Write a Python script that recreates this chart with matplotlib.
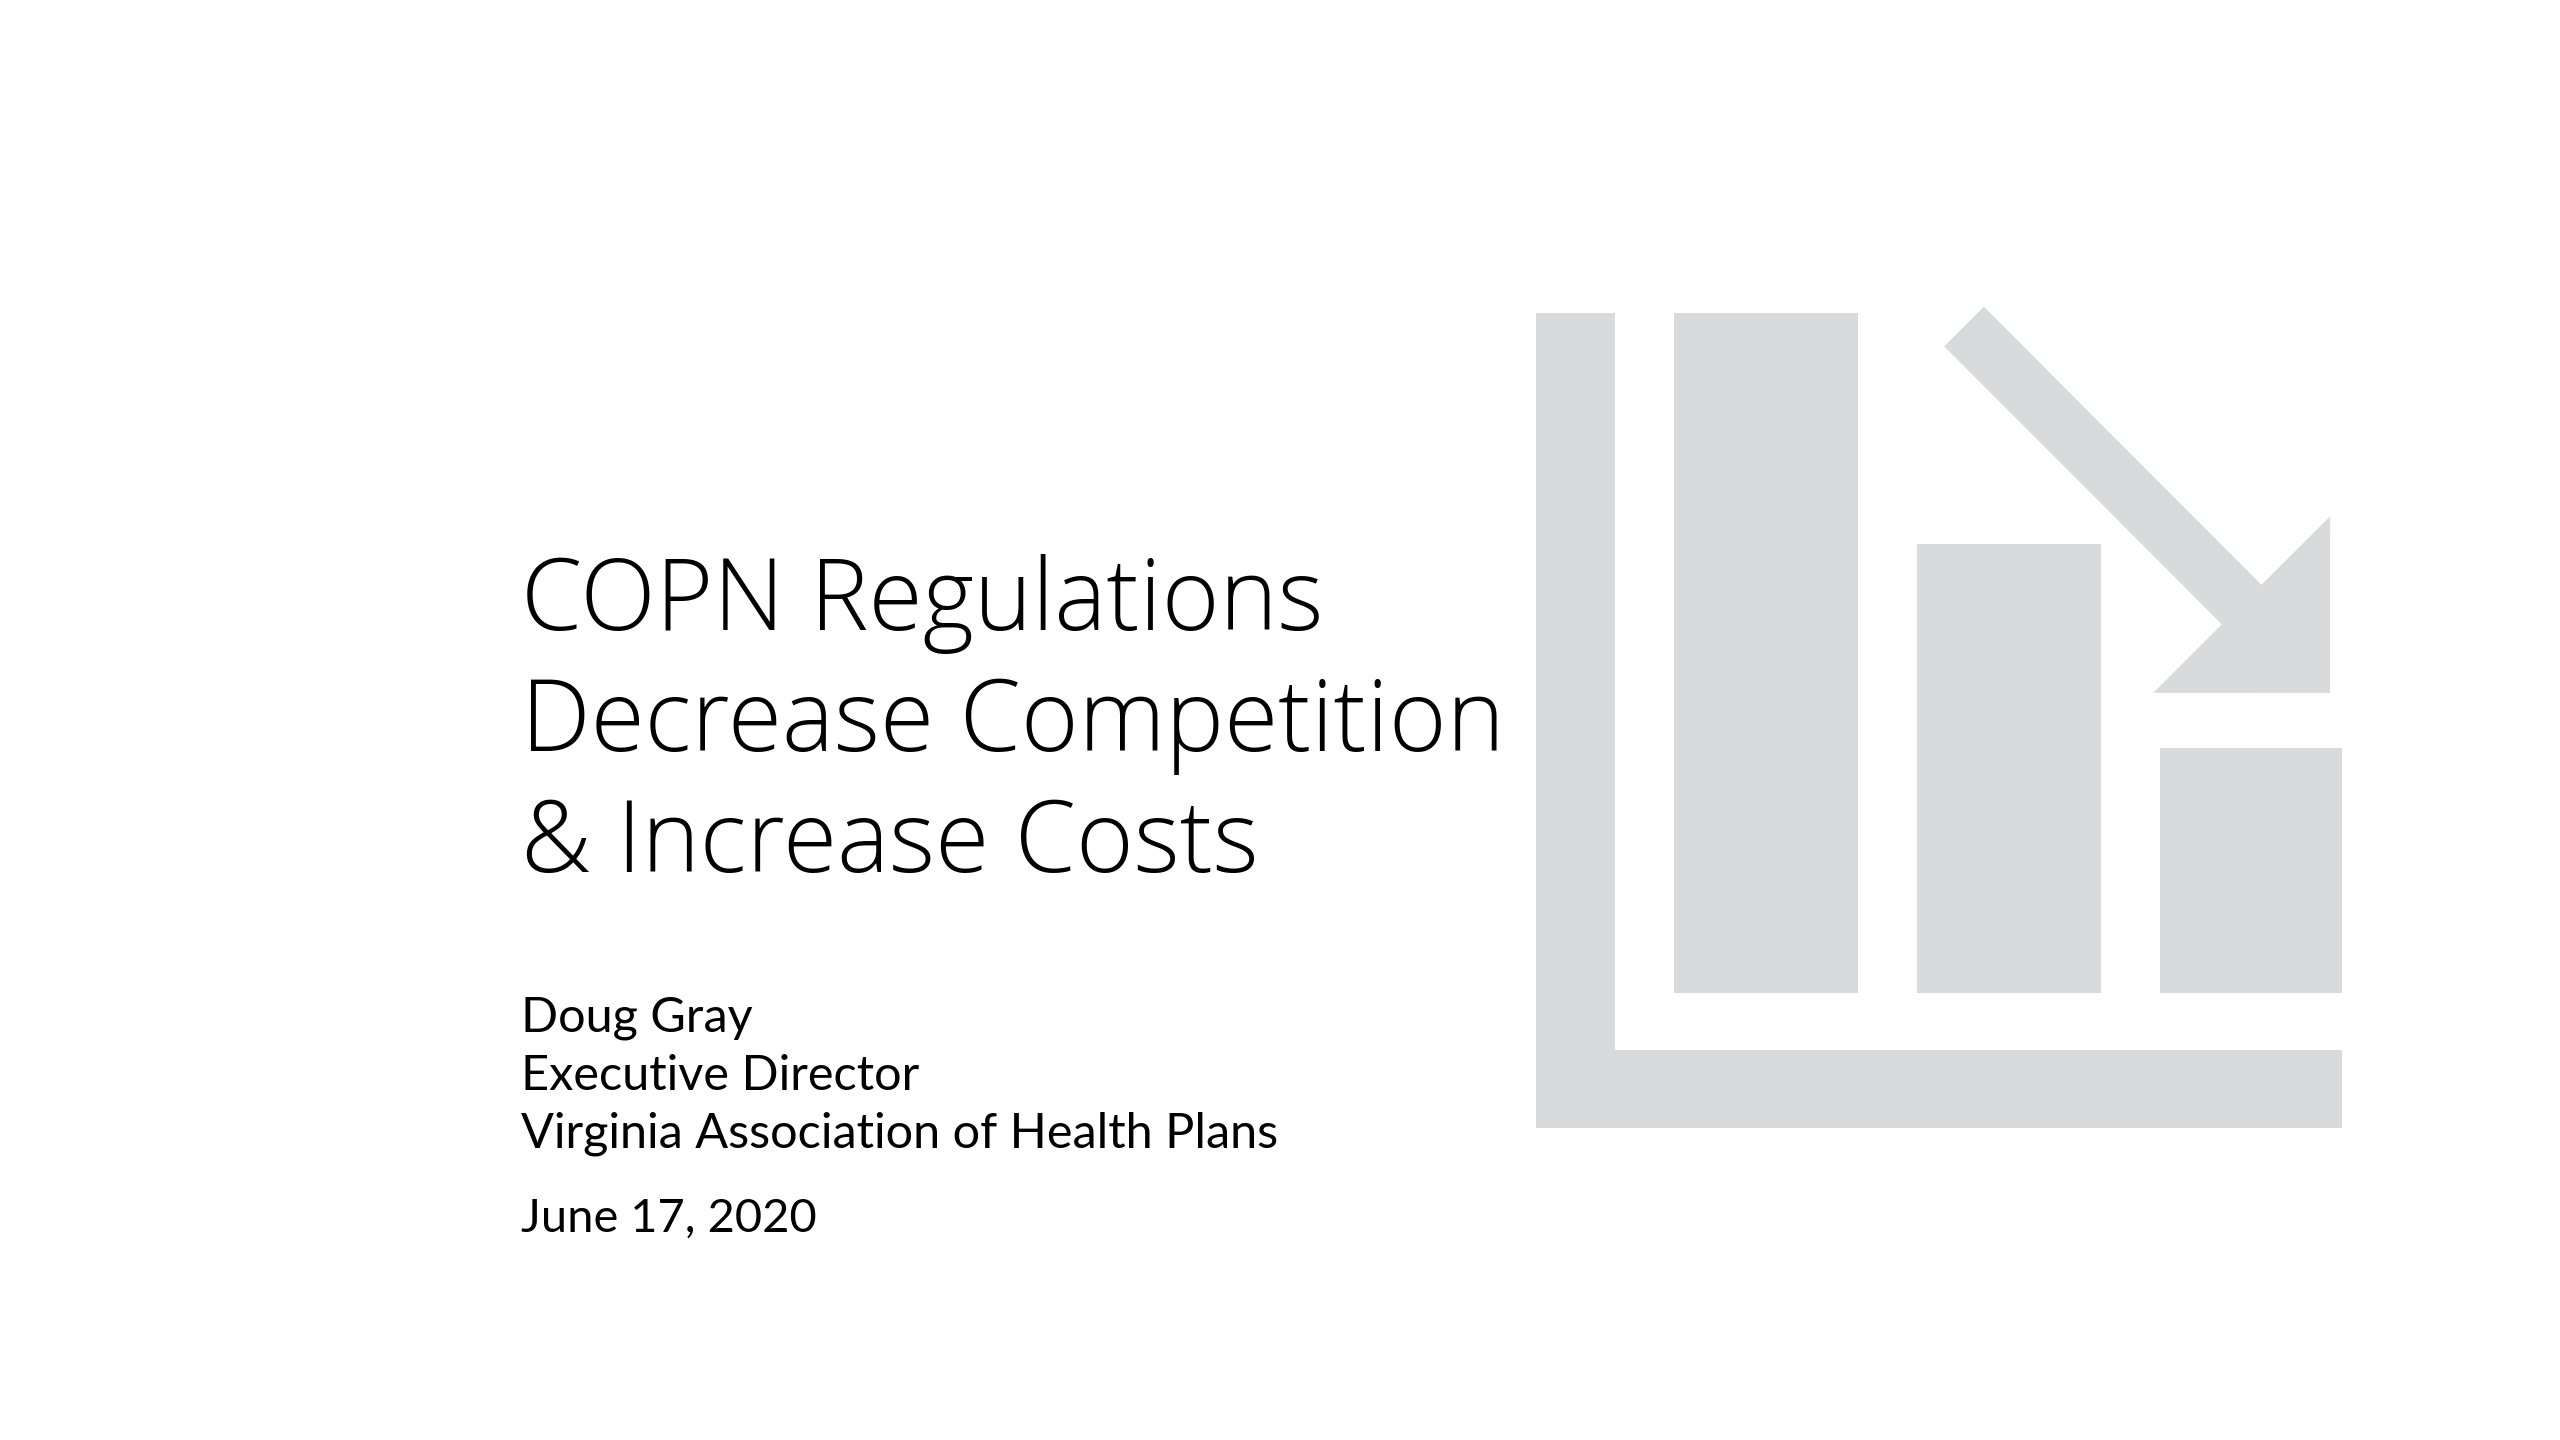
import matplotlib
matplotlib.use('Agg')
import matplotlib.pyplot as plt
from matplotlib.patches import FancyArrow

# slide text
title_lines = ['COPN Regulations', 'Decrease Competition', '& Increase Costs']
sub_lines = ['Doug Gray', 'Executive Director', 'Virginia Association of Health Plans']
date_line = 'June 17, 2020'

# icon: three falling bars (tallest = 100)
icon_values = [100, 66, 36]

W, H = 2560, 1440
grey = '#D9DADB'

fig = plt.figure(figsize=(25.6, 14.4), dpi=100)
fig.patch.set_facecolor('white')
page = fig.add_axes([0, 0, 1, 1])
page.set_xlim(0, W)
page.set_ylim(H, 0)
page.axis('off')

#icon box in pixels
ix, iy, iw, ih = 1536, 313, 806, 815
pitch = 243.0          # px per bar slot
bw = 184 / pitch
unit = 680 / icon_values[0]   # px per value unit
x0 = -(138 + 92) / pitch
ybot = -(78 + 57) / unit

iax = fig.add_axes([ix / W, (H - iy - ih) / H, iw / W, ih / H])
iax.patch.set_facecolor('none')
iax.axis('off')
iax.set_xlim(x0, x0 + iw / pitch)
iax.set_ylim(ybot, ybot + ih / unit)
iax.bar(range(len(icon_values)), icon_values, width=bw, color=grey, linewidth=0)
iax.axvspan(x0, x0 + 79 / pitch, color=grey, lw=0)
iax.axhspan(ybot, ybot + 78 / unit, color=grey, lw=0)

# falling arrow
tail = (1964, 326.5)
tip = (2330, 693)
arr = FancyArrow(tail[0], tail[1], tip[0] - tail[0], tip[1] - tail[1],
                 width=56, head_width=250, head_length=125,
                 length_includes_head=True, color=grey, lw=0)
page.add_patch(arr)

left = 521
title_base = [630, 751, 872]
sub_base = [1032, 1090, 1147]
date_base = 1232

tt = []
for s, y in zip(title_lines, title_base):
    tt.append(page.text(left, y, s, fontsize=60, family='Open Sans', fontweight='light',
                        color='black', va='baseline', ha='left'))
st = []
for s, y in zip(sub_lines, sub_base):
    st.append(page.text(left, y, s, fontsize=30, family='Lato',
                        color='black', va='baseline', ha='left'))
dt = page.text(left, date_base, date_line, fontsize=30, family='Lato',
               color='black', va='baseline', ha='left')

# scale the fonts so the longest lines get the widths of the original
fig.canvas.draw()
r = fig.canvas.get_renderer()
def fit(texts, target):
    w = max(t.get_window_extent(r).width for t in texts)
    for t in texts:
        t.set_fontsize(t.get_fontsize() * target / w)

fit(tt, 984)
fit(st, 757)
fit([dt], 295)

fig.savefig('out.png', dpi=100, facecolor='white')
